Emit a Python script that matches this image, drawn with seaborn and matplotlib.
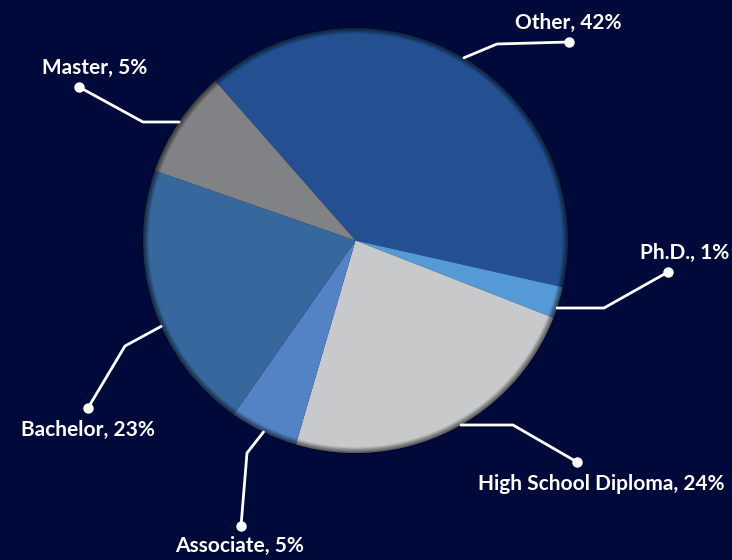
import matplotlib
matplotlib.use("Agg")
import matplotlib.pyplot as plt
import numpy as np
import seaborn as sns
from matplotlib.patches import Circle

# slice order as drawn clockwise from the top-left
categories = ["Other", "Ph.D.", "High School Diploma", "Associate", "Bachelor", "Master"]
# slice sizes as they appear on the picture (%)
shares = [40.0, 2.4, 23.6, 5.2, 20.6, 8.2]
# percentages printed in the labels
label_pct = [42, 1, 24, 5, 23, 5]
colors = ["#245091", "#559ad6", "#c8c9cb", "#5383c5", "#37689d", "#818285"]

bg = "#000a3a"

sns.set_theme(style="dark", rc={"figure.facecolor": bg, "axes.facecolor": bg})
plt.rcParams["font.family"] = ["Lato", "DejaVu Sans"]

fig = plt.figure(figsize=(7.32, 5.60), dpi=100)
ax = fig.add_axes([0, 0, 1, 1])
ax.set_facecolor(bg)

# pixel layout of the reference: centre and radius of the pie
cx, cy, R = 355.5, 240.5, 212.5
W, H = 732, 560


def px(x, y):
    return (x - cx) / R, (cy - y) / R


wedges, _ = ax.pie(shares, colors=colors, startangle=131.3, counterclock=False,
                   radius=1, center=(0, 0), wedgeprops=dict(linewidth=0))

# soft dark inner edge of the disc
for k in range(8):
    ax.add_patch(Circle((0, 0), 1 - k * 0.0035, fill=False, edgecolor="black",
                        lw=1.3, alpha=0.30 * (1 - k / 8), zorder=3))

# leader lines: first leg ("h" = horizontal out of the disc, else a point
# along the wedge), elbow point, dot, label centre (pixels)
leaders = {
    "Other": [0.5, (497, 44), (569, 42), (568, 23)],
    "Ph.D.": ["h", (604, 308), (668, 272), (685, 253)],
    "High School Diploma": ["h", (513, 425), (577, 462), (601, 484)],
    "Associate": [0.5, (247, 453), (241, 526), (240, 546)],
    "Bachelor": [0.58, (125, 346), (88, 408), (88, 430)],
    "Master": ["h", (143, 122), (79, 87), (95, 68)],
}

for w, name, pct in zip(wedges, categories, label_pct):
    how, elbow, dot, lab = leaders[name]
    ex, ey = px(*elbow)
    if how == "h":
        sx = np.sign(ex) * np.sqrt(1 - ey ** 2)
        start = (sx, ey)
    else:
        a = np.deg2rad(w.theta1 + how * (w.theta2 - w.theta1))
        start = (np.cos(a), np.sin(a))
    pts = [start, (ex, ey), px(*dot)]
    ax.plot([p[0] for p in pts], [p[1] for p in pts], color="white", lw=2, zorder=4,
            solid_capstyle="round")
    ax.plot(*px(*dot), "o", color="white", ms=6.5, zorder=5)
    ax.text(*px(*lab), f"{name}, {pct}%", color="white", fontsize=15, fontweight="bold",
            ha="center", va="center", zorder=5)

ax.set_xlim(-cx / R, (W - cx) / R)
ax.set_ylim(-(H - cy) / R, cy / R)
ax.set_aspect("equal")
ax.axis("off")

fig.savefig("out.png", dpi=100, facecolor=bg)
